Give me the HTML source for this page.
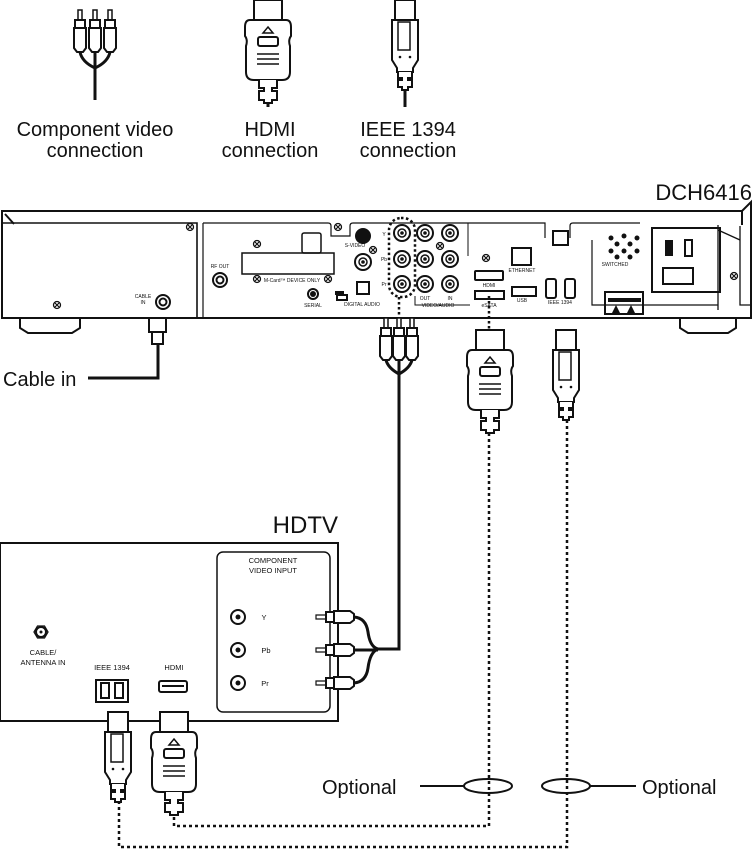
<!DOCTYPE html>
<html><head><meta charset="utf-8"><style>
html,body{margin:0;padding:0;background:#fff;}
svg{display:block;}
text{font-family:"Liberation Sans",sans-serif;fill:#111;}
</style></head><body>
<svg width="754" height="851" viewBox="0 0 754 851" xmlns="http://www.w3.org/2000/svg">
<defs>
 <g id="hdmi" fill="#fff" stroke="#111" stroke-width="2">
  <rect x="-14" y="0" width="28" height="20"/>
  <path d="M-18 20 H18 Q23 20 23 27 V36 Q20 40 22 46 V72 Q22 80 14 80 H-14 Q-22 80 -22 72 V46 Q-20 40 -23 36 V27 Q-23 20 -18 20Z"/>
  <path d="M0 27 L5 33 H-5Z" stroke-width="1.5"/>
  <rect x="-10" y="37" width="20" height="9" rx="2"/>
  <path d="M-11 54 H11 M-11 59 H11 M-11 64 H11" stroke-width="1.5"/>
  <path d="M-9 80 V88 H-4 V91 H-9 V100 H-4 V103 H4 V100 H9 V91 H4 V88 H9 V80" />
 </g>
 <g id="ieee" fill="#fff" stroke="#111" stroke-width="2">
  <rect x="-10" y="0" width="20" height="20"/>
  <path d="M-13 20 H13 V60 L8 68 V72 H-8 V68 L-13 60Z"/>
  <rect x="-7" y="22" width="12" height="28" stroke-width="1.5"/>
  <circle cx="-5" cy="57" r="1.3" fill="#111" stroke="none"/>
  <circle cx="5" cy="57" r="1.3" fill="#111" stroke="none"/>
  <path d="M-7 72 V78 H-3 V80 H-7 V87 H-3 V90 H3 V87 H7 V80 H3 V78 H7 V72"/>
 </g>
 <g id="rca" fill="#fff" stroke="#111" stroke-width="2">
  <path d="M-2 0 H2 V10 H-2Z" stroke-width="1.5"/>
  <rect x="-5" y="10" width="10" height="8"/>
  <path d="M-6 18 H6 V38 L3 42 H-3 L-6 38Z"/>
 </g>
 <g id="rcaside" fill="#fff" stroke="#111" stroke-width="2">
  <path d="M0 -2 H-10 V2 H0Z" stroke-width="1.2"/>
  <rect x="0" y="-5" width="8" height="10"/>
  <path d="M8 -6 H24 L28 -3 V3 L24 6 H8Z"/>
 </g>
 <g id="jack"><circle r="8" fill="#fff" stroke="#111" stroke-width="2"/><circle r="4" fill="none" stroke="#111" stroke-width="1.5"/><circle r="1.8" fill="#111"/></g>
 <g id="screw"><circle r="3.5" fill="#fff" stroke="#111" stroke-width="1.3"/><path d="M-2 -2 L2 2 M2 -2 L-2 2" stroke="#111" stroke-width="1.2"/></g>
</defs>

<!-- top icons -->
<g transform="translate(80,10)"><use href="#rca"/></g>
<g transform="translate(95,10)"><use href="#rca"/></g>
<g transform="translate(110,10)"><use href="#rca"/></g>
<path d="M80 52 Q82 62 95 68 Q108 62 110 52 M95 52 V100" stroke="#111" stroke-width="3" fill="none"/>
<use href="#hdmi" transform="translate(268,0)"/>
<path d="M268 103 V107" stroke="#111" stroke-width="3"/>
<use href="#ieee" transform="translate(405,0)"/>
<path d="M405 90 V107" stroke="#111" stroke-width="3"/>

<g font-size="20" text-anchor="middle">
 <text x="95" y="136">Component video</text>
 <text x="95" y="157">connection</text>
 <text x="270" y="136">HDMI</text>
 <text x="270" y="157">connection</text>
 <text x="408" y="136">IEEE 1394</text>
 <text x="408" y="157">connection</text>
</g>

<text x="752" y="200" font-size="22" text-anchor="end">DCH6416</text>

<!-- DCH box -->
<g fill="none" stroke="#111" stroke-width="2">
 <path d="M2 211 H742 L751 202 V318 H2Z" fill="#fff"/>
 <path d="M742 211 V225 M5 214 L14 224"/>
 <path d="M3 223 H197 V318" stroke-width="1.6"/>
 <path d="M20 318 V328 L28 333 H72 L80 328 V318"/>
 <path d="M680 318 V328 L688 333 H728 L736 328 V318"/>
 <path d="M740 226 V305 H750 M718 230 L740 240 M718 225 V310" stroke-width="1.3"/>
 <path d="M203 223 V318 M203 223 H328 Q331 223 331 226 V236 H350 V226 Q350 223 353 223 H545 V238 M570 238 V226 Q570 223 573 223 H640 M592 240 V305 H718" stroke-width="1.2"/>
 <path d="M415 296 V305 H470 M468 223 V256" stroke-width="1"/>
 <rect x="242" y="253" width="92" height="21" stroke-width="1.5"/>
 <rect x="302" y="233" width="19" height="20" rx="2" stroke-width="1.5"/>
 <rect x="512" y="248" width="19" height="17"/>
 <rect x="512" y="287" width="24" height="9"/>
 <rect x="546" y="279" width="10" height="19" rx="2"/>
 <rect x="565" y="279" width="10" height="19" rx="2"/>
 <rect x="553" y="231" width="15" height="14"/>
 <rect x="652" y="228" width="68" height="64"/>
 <rect x="685" y="240" width="7" height="16"/>
 <rect x="663" y="268" width="30" height="16"/>
 <rect x="605" y="292" width="38" height="22"/>
 <rect x="475" y="271" width="28" height="9" rx="1"/>
 <rect x="475" y="291" width="29" height="8"/>
 <rect x="357" y="282" width="12" height="12"/>
 <rect x="337" y="295" width="10" height="5"/>
 <circle cx="220" cy="280" r="7"/><circle cx="220" cy="280" r="3.5"/>
 <circle cx="163" cy="302" r="7"/><circle cx="163" cy="302" r="3.5"/>
 <circle cx="313" cy="294" r="5"/>
</g>
<rect x="665" y="240" width="8" height="16" fill="#111"/>
<circle cx="363" cy="236" r="8" fill="#111"/>
<circle cx="313" cy="294" r="3" fill="#111"/>
<use href="#jack" transform="translate(363,262)"/>
<use href="#jack" transform="translate(402,233)"/>
<use href="#jack" transform="translate(402,259)"/>
<use href="#jack" transform="translate(402,284)"/>
<use href="#jack" transform="translate(425,233)"/>
<use href="#jack" transform="translate(425,259)"/>
<use href="#jack" transform="translate(425,284)"/>
<use href="#jack" transform="translate(450,233)"/>
<use href="#jack" transform="translate(450,259)"/>
<use href="#jack" transform="translate(450,284)"/>
<use href="#screw" transform="translate(190,227)"/>
<use href="#screw" transform="translate(57,305)"/>
<use href="#screw" transform="translate(257,244)"/>
<use href="#screw" transform="translate(257,279)"/>
<use href="#screw" transform="translate(328,279)"/>
<use href="#screw" transform="translate(338,227)"/>
<use href="#screw" transform="translate(373,250)"/>
<use href="#screw" transform="translate(440,246)"/>
<use href="#screw" transform="translate(486,258)"/>
<use href="#screw" transform="translate(734,276)"/>
<g fill="#111">
 <circle cx="611" cy="238" r="2.5"/><circle cx="624" cy="236" r="2.5"/><circle cx="637" cy="238" r="2.5"/>
 <circle cx="617" cy="244" r="2.5"/><circle cx="630" cy="244" r="2.5"/>
 <circle cx="611" cy="251" r="2.5"/><circle cx="624" cy="251" r="2.5"/><circle cx="637" cy="251" r="2.5"/>
 <circle cx="617" cy="257" r="2.5"/><circle cx="630" cy="257" r="2.5"/>
 <rect x="608" y="298" width="33" height="4"/>
 <path d="M612 313 L616 305 L620 313Z M627 313 L631 305 L635 313Z"/>
 <rect x="335" y="291" width="9" height="4"/>
</g>
<g font-size="5" text-anchor="middle">
 <text x="220" y="268">RF OUT</text>
 <text x="143" y="298">CABLE</text><text x="143" y="304">IN</text>
 <text x="292" y="282">M-Card™ DEVICE ONLY</text>
 <text x="355" y="247">S-VIDEO</text>
 <text x="313" y="307">SERIAL</text>
 <text x="362" y="306">DIGITAL AUDIO</text>
 <text x="438" y="307">VIDEO/AUDIO</text>
 <text x="425" y="300">OUT</text><text x="450" y="300">IN</text>
 <text x="489" y="287">HDMI</text>
 <text x="489" y="307">eSATA</text>
 <text x="522" y="272">ETHERNET</text>
 <text x="522" y="302">USB</text>
 <text x="560" y="304">IEEE 1394</text>
 <text x="615" y="266">SWITCHED</text>
 <text x="384" y="236">Y</text><text x="384" y="261">Pb</text><text x="384" y="286">Pr</text>
</g>
<rect x="389" y="218" width="26" height="79" rx="12" fill="none" stroke="#111" stroke-width="2.5" stroke-dasharray="2.5 2.5"/>

<!-- cable in -->
<g fill="#fff" stroke="#111" stroke-width="2">
 <rect x="149" y="318" width="17" height="14"/>
 <rect x="152" y="332" width="11" height="12"/>
</g>
<path d="M158 344 V378 H88" fill="none" stroke="#111" stroke-width="3"/>
<text x="3" y="386" font-size="20">Cable in</text>

<!-- component plug from box -->
<g transform="translate(386,318)"><use href="#rca"/></g>
<g transform="translate(399,318)"><use href="#rca"/></g>
<g transform="translate(412,318)"><use href="#rca"/></g>
<path d="M399 297 V318" stroke="#111" stroke-width="2.5" stroke-dasharray="2.5 2.5"/>
<path d="M386 360 Q388 368 399 374 Q410 368 412 360 M399 360 V649 H376" fill="none" stroke="#111" stroke-width="3"/>

<use href="#hdmi" transform="translate(490,330)"/>
<path d="M489 296 V330" stroke="#111" stroke-width="2.5" stroke-dasharray="2.5 2.5"/>
<use href="#ieee" transform="translate(566,330)"/>

<g fill="none" stroke="#111" stroke-width="2.5" stroke-dasharray="3 3">
 <path d="M489 433 V826 H174 V805"/>
 <path d="M567 420 V847 H119 V800"/>
</g>

<g fill="none" stroke="#111" stroke-width="2">
 <ellipse cx="488" cy="786" rx="24" ry="7"/>
 <ellipse cx="566" cy="786" rx="24" ry="7"/>
 <path d="M420 786 H464 M590 786 H636"/>
</g>
<text x="322" y="794" font-size="20">Optional</text>
<text x="642" y="794" font-size="20">Optional</text>

<!-- HDTV -->
<text x="338" y="533" font-size="24" text-anchor="end">HDTV</text>
<rect x="0" y="543" width="338" height="178" fill="none" stroke="#111" stroke-width="2"/>
<rect x="217" y="552" width="113" height="160" rx="6" fill="none" stroke="#111" stroke-width="1.5"/>
<g font-size="7.5" text-anchor="middle">
 <text x="273" y="563">COMPONENT</text>
 <text x="273" y="573">VIDEO INPUT</text>
 <text x="43" y="655">CABLE/</text>
 <text x="43" y="665">ANTENNA IN</text>
 <text x="112" y="670">IEEE 1394</text>
 <text x="174" y="670">HDMI</text>
 <text x="264" y="620">Y</text>
 <text x="266" y="653">Pb</text>
 <text x="265" y="686">Pr</text>
</g>
<g fill="none" stroke="#111" stroke-width="2">
 <circle cx="238" cy="617" r="7"/><circle cx="238" cy="650" r="7"/><circle cx="238" cy="683" r="7"/>
 <circle cx="41" cy="632" r="5"/>
 <path d="M34 632 L37.5 626 H44.5 L48 632 L44.5 638 H37.5Z" stroke-width="1.3"/>
 <rect x="96" y="680" width="32" height="22"/>
 <rect x="101" y="683" width="8" height="15"/><rect x="115" y="683" width="8" height="15"/>
 <rect x="159" y="681" width="28" height="11" rx="2"/>
 <path d="M162 686 H184"/>
</g>
<g fill="#111"><circle cx="238" cy="617" r="2.5"/><circle cx="238" cy="650" r="2.5"/><circle cx="238" cy="683" r="2.5"/><circle cx="41" cy="632" r="1.5"/></g>
<g transform="translate(326,617)"><use href="#rcaside"/></g>
<g transform="translate(326,650)"><use href="#rcaside"/></g>
<g transform="translate(326,683)"><use href="#rcaside"/></g>
<path d="M354 617 Q366 618 368 632 Q370 647 378 649 M354 650 H378 M354 683 Q366 682 368 668 Q370 652 378 649" fill="none" stroke="#111" stroke-width="3"/>
<use href="#ieee" transform="translate(118,712)"/>
<use href="#hdmi" transform="translate(174,712)"/>
</svg>
</body></html>
